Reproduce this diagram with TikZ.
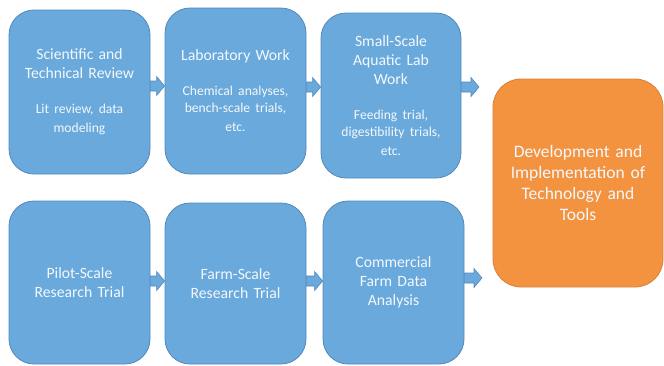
\documentclass[tikz,border=0pt]{standalone}
\usepackage{fontspec}
\setmainfont{Carlito}
\usetikzlibrary{calc}
\definecolor{stepblue}{HTML}{69A9DB}
\definecolor{stepblueedge}{HTML}{5389BC}
\definecolor{goalorange}{HTML}{F39340}
\definecolor{goalorangeedge}{HTML}{D6803A}
\definecolor{boxtext}{HTML}{F4F8FC}

\tikzset{
  stepbox/.style={draw=stepblueedge, fill=stepblue, line width=0.8pt,
    rounded corners=25pt, minimum width=141pt, inner sep=0pt,
    text=boxtext, align=center, text width=136pt,
    font=\fontsize{15.7}{19}\selectfont},
  goalbox/.style={draw=goalorangeedge, fill=goalorange, line width=0.8pt,
    rounded corners=28pt, minimum width=170pt, minimum height=208pt,
    inner sep=0pt, text=boxtext, align=center, text width=160pt,
    font=\fontsize{17.5}{21}\selectfont},
  barrow/.style={draw=stepblueedge, fill=stepblue, line width=0.6pt,
    line join=miter}
}

% block arrow from #1 to #2 (same height), head length 8pt
\newcommand{\blockarrow}[2]{%
  \draw[barrow] let \p1=(#1), \p2=(#2) in
    (\x1,\y1+5pt) -- (\x2-8pt,\y1+5pt) -- (\x2-8pt,\y1+9.5pt) --
    (\x2,\y1) -- (\x2-8pt,\y1-9.5pt) -- (\x2-8pt,\y1-5pt) --
    (\x1,\y1-5pt) -- cycle;}

\newcommand{\subtext}{\par\vspace{18pt}\fontsize{13.6}{17}\selectfont}

\begin{document}
\begin{tikzpicture}[x=1pt,y=-1pt]
  \useasboundingbox (0,0) rectangle (664,365);

  % top row
  \node[stepbox, minimum height=164pt] (b1) at (79.5,92)
    {Scientific and\\Technical Review\subtext Lit review, data\\modeling};
  \node[stepbox, minimum height=166pt] (b2) at (235.5,91)
    {Laboratory Work\subtext Chemical analyses,\\bench-scale trials,\\etc.};
  \node[stepbox, minimum height=165pt, minimum width=140pt] (b3) at (391,95.5)
    {Small-Scale\\Aquatic Lab\\Work\subtext Feeding trial,\\digestibility trials,\\etc.};

  % bottom row
  \node[stepbox, minimum height=163pt] (b4) at (79.5,282.5)
    {Pilot-Scale\\Research Trial};
  \node[stepbox, minimum height=161pt] (b5) at (235.5,283.5)
    {Farm-Scale\\Research Trial};
  \node[stepbox, minimum height=163pt] (b6) at (393.5,282.5)
    {Commercial\\Farm Data\\Analysis};

  % outcome
  \node[goalbox] (g) at (578,183)
    {Development and\\Implementation of\\Technology and\\Tools};

  % connectors
  \coordinate (a1s) at (b1.east |- 0,86);
  \coordinate (a1e) at (b2.west |- 0,86);
  \coordinate (a2s) at (b2.east |- 0,87);
  \coordinate (a2e) at (b3.west |- 0,87);
  \coordinate (a3s) at (b3.east |- 0,87);
  \coordinate (a3e) at (479,87);
  \coordinate (a4s) at (b4.east |- 0,281);
  \coordinate (a4e) at (b5.west |- 0,281);
  \coordinate (a5s) at (b5.east |- 0,281);
  \coordinate (a5e) at (b6.west |- 0,281);
  \coordinate (a6s) at (b6.east |- 0,278);
  \coordinate (a6e) at (482,278);

  \blockarrow{a1s}{a1e}
  \blockarrow{a2s}{a2e}
  \blockarrow{a3s}{a3e}
  \blockarrow{a4s}{a4e}
  \blockarrow{a5s}{a5e}
  \blockarrow{a6s}{a6e}
\end{tikzpicture}
\end{document}
